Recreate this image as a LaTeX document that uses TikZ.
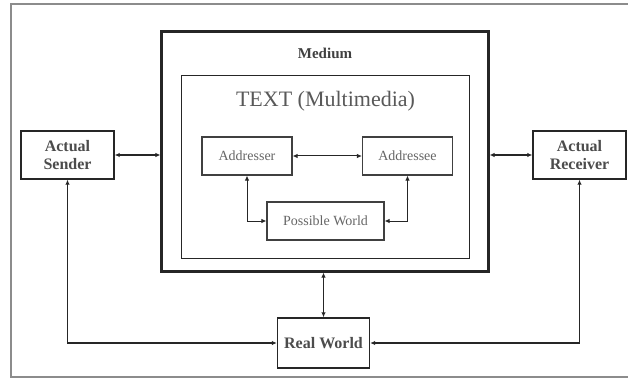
\documentclass[tikz,border=0pt]{standalone}
\usepackage{fontspec}
\setmainfont{Liberation Serif}
\usetikzlibrary{arrows.meta}
\tikzset{
  box/.style={draw=black!85, line width=1.4pt, fill=white, text=black!70, align=center, inner sep=0pt},
  smallbox/.style={draw=black!75, line width=1.1pt, fill=white, text=black!60, font=\fontsize{14}{16}\selectfont, inner sep=0pt},
  link/.style={draw=black!85, line width=1.2pt, {Latex[length=5pt,width=4.5pt]}-{Latex[length=5pt,width=4.5pt]}}
}
\begin{document}
\begin{tikzpicture}[x=1pt, y=-1pt]
      \useasboundingbox (0,0) rectangle (628,379);
      \draw[black!45, line width=1.2pt] (11,4) rectangle (632,377);
      \draw
        (325,151.5) node[box, line width=2.2pt, minimum width=327pt, minimum height=240pt] (medium){}
        (325.5,167) node[box, line width=1.3pt, minimum width=288pt, minimum height=183pt] (text){}
        (325,53) node[text=black!75, font=\bfseries\fontsize{15}{17}\selectfont] (mlabel){Medium}
        (325.5,101) node[text=black!65, font=\fontsize{22}{25}\selectfont] (tlabel){TEXT (Multimedia)}
        (67.5,155) node[box, minimum width=93pt, minimum height=48pt, font=\bfseries\fontsize{16}{18}\selectfont] (sender){Actual\\Sender}
        (579.5,155) node[box, minimum width=93pt, minimum height=48pt, font=\bfseries\fontsize{16}{18}\selectfont] (receiver){Actual\\Receiver}
        (323.5,343) node[box, minimum width=92pt, minimum height=50pt, font=\bfseries\fontsize{16}{18}\selectfont] (real){Real World}
        (247,156) node[smallbox, minimum width=90pt, minimum height=38pt] (addresser){Addresser}
        (407.5,156) node[smallbox, minimum width=90pt, minimum height=38pt] (addressee){Addressee}
        (325.5,221) node[smallbox, minimum width=117pt, minimum height=38pt] (possible){Possible World};
      \begin{scope}[link]
        \draw (sender) to (sender -| medium.west);
        \draw (receiver -| medium.east) to (receiver);
        \draw[line width=1pt] (addresser) to (addressee);
        \draw[line width=1pt] (addresser.south) |- (possible);
        \draw[line width=1pt] (addressee.south) |- (possible);
        \draw (medium.south -| real) to (real);
        \draw (sender.south) |- (real);
        \draw (receiver.south) |- (real);
      \end{scope}
    \end{tikzpicture}
\end{document}
